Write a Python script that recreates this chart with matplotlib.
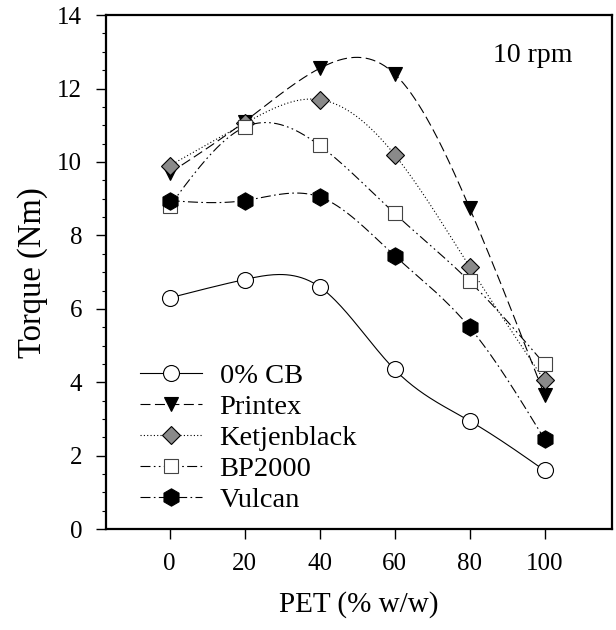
import numpy as np
import matplotlib
matplotlib.use("Agg")
import matplotlib.pyplot as plt
from matplotlib.lines import Line2D

# ==========================================
# DATA
# ==========================================

pet = [0, 20, 40, 60, 80, 100]

cb0 = [6.3, 6.8, 6.6, 4.35, 2.95, 1.6]
printex = [9.7, 11.1, 12.55, 12.4, 8.75, 3.65]
ketjen = [9.9, 11.05, 11.7, 10.2, 7.15, 4.05]
bp2000 = [8.8, 10.95, 10.45, 8.6, 6.75, 4.5]
vulcan = [8.95, 8.95, 9.05, 7.45, 5.5, 2.45]

labels = ["0% CB", "Printex", "Ketjenblack", "BP2000", "Vulcan"]


def natural_spline(x, y, n=200):
    # natural cubic spline through the measured points (smooth line only)
    x = np.asarray(x, float)
    y = np.asarray(y, float)
    k = len(x)
    h = np.diff(x)
    A = np.zeros((k, k))
    b = np.zeros(k)
    A[0, 0] = A[-1, -1] = 1
    for i in range(1, k - 1):
        A[i, i - 1] = h[i - 1]
        A[i, i] = 2 * (h[i - 1] + h[i])
        A[i, i + 1] = h[i]
        b[i] = 3 * ((y[i + 1] - y[i]) / h[i] - (y[i] - y[i - 1]) / h[i - 1])
    c = np.linalg.solve(A, b)
    xs = np.linspace(x[0], x[-1], n)
    ys = np.empty_like(xs)
    for j, xv in enumerate(xs):
        i = min(np.searchsorted(x, xv, side="right") - 1, k - 2)
        dx = xv - x[i]
        bi = (y[i + 1] - y[i]) / h[i] - h[i] * (2 * c[i] + c[i + 1]) / 3
        di = (c[i + 1] - c[i]) / (3 * h[i])
        ys[j] = y[i] + bi * dx + c[i] * dx ** 2 + di * dx ** 3
    return xs, ys


# ==========================================
# PLOT
# ==========================================

plt.rcParams["font.family"] = ["Liberation Serif", "DejaVu Serif"]

fig = plt.figure(figsize=(6.16, 6.30), dpi=100)
ax = fig.add_axes([0.172, 0.160, 0.8215, 0.816])

series = [
    (cb0, "-", dict(marker="o", mfc="white", mec="black", ms=11.5)),
    (printex, (0, (9, 4)), dict(marker="v", mfc="black", mec="black", ms=10.5)),
    (ketjen, (0, (1, 2)), dict(marker="D", mfc="#8a8a8a", mec="black", ms=9.5)),
    (bp2000, (0, (9, 3, 1.5, 3, 1.5, 3)), dict(marker="s", mfc="white", mec="#444444", ms=10.5)),
    (vulcan, (0, (9, 3, 1.5, 3)), dict(marker="h", mfc="black", mec="black", ms=12.5)),
]

handles = []
for (vals, ls, mk), lab in zip(series, labels):
    xs, ys = natural_spline(pet, vals)
    ax.plot(xs, ys, color="black", lw=0.8, linestyle=ls, zorder=2)
    ax.plot(pet, vals, linestyle="none", mew=0.8, zorder=3, **mk)
    handles.append(Line2D([], [], color="black", lw=0.8, linestyle=ls, mew=0.8, **mk))

ax.set_xlim(-17, 118)
ax.set_ylim(0, 14)
ax.set_xticks(pet)
ax.set_yticks(np.arange(0, 15, 2))
ax.set_yticks(np.arange(0, 14.01, 0.5), minor=True)

ax.tick_params(axis="both", which="major", direction="out", length=7, width=1,
               labelsize=18, pad=10)
ax.tick_params(axis="y", which="minor", direction="out", length=3, width=0.8)
for s in ax.spines.values():
    s.set_linewidth(1.6)

ax.set_xlabel("PET (% w/w)", fontsize=21, labelpad=12)
ax.set_ylabel("Torque (Nm)", fontsize=23.5, labelpad=7)

ax.text(0.922, 0.945, "10 rpm", transform=ax.transAxes, fontsize=20,
        ha="right", va="top")

ax.legend(handles, labels, loc="lower left", bbox_to_anchor=(0.067, 0.032),
          frameon=False, fontsize=20.5, handlelength=2.2, handletextpad=0.6,
          labelspacing=0.18, borderpad=0, borderaxespad=0)

fig.savefig("out.png", dpi=100)
